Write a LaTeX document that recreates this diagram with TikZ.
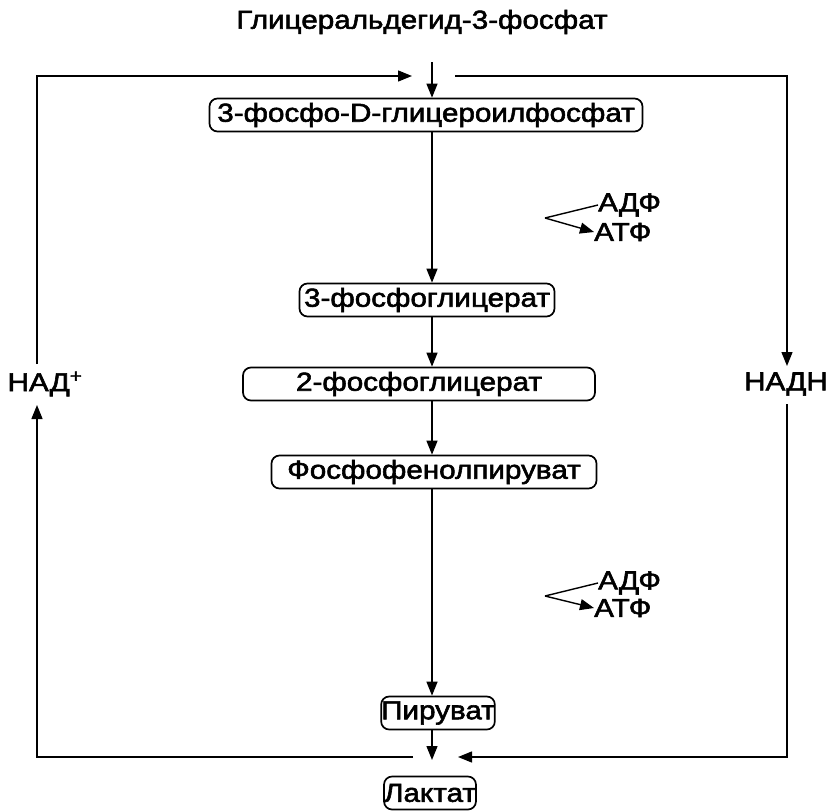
\documentclass[tikz,border=0pt]{standalone}
\usepackage{fontspec}
\setmainfont[FakeStretch=1.14,UprightFeatures={FakeBold=2.2}]{Liberation Sans}
\usetikzlibrary{arrows.meta}
\begin{document}
\begin{tikzpicture}[x=1pt,y=-1pt,
  box/.style={draw, rounded corners=8pt, line width=1.7pt, minimum height=33pt, inner sep=0pt},
  lbl/.style={inner sep=0pt},
  conn/.style={line width=1.4pt},
  arr/.style={conn, -{Triangle[length=14pt,width=11pt]}},
  font=\fontsize{26}{30}\selectfont]
\useasboundingbox[fill=white] (0,0) rectangle (828,811);
% nodes
\node[lbl] (title) at (422,22) {Глицеральдегид-3-фосфат};
\node[box, minimum width=433pt] (b1) at (426,115) {3-фосфо-D-глицероилфосфат};
\node[box, minimum width=255pt] (b2) at (427,300) {3-фосфоглицерат};
\node[box, minimum width=352pt] (b3) at (419,384) {2-фосфоглицерат};
\node[box, minimum width=325pt] (b4) at (434,472) {Фосфофенолпируват};
\node[box, minimum width=106pt] (b5) at (438,713) {Пируват};
\node[box, minimum width=88pt] (b6) at (430,793) {Лактат};
\node[lbl] (nadp) at (45,384) {НАД\textsuperscript{+}};
\node[lbl] (nadh) at (786,384) {НАДН};
\node[lbl, anchor=west] (adp1) at (598,205) {АДФ};
\node[lbl, anchor=west] (atp1) at (594,232) {АТФ};
\node[lbl, anchor=west] (adp2) at (598,583) {АДФ};
\node[lbl, anchor=west] (atp2) at (594,608) {АТФ};
% coordinates
\coordinate (cx) at (432,0);
\coordinate (t1) at (432,62);
\coordinate (tl) at (37,76);
\coordinate (tr) at (787,76);
\coordinate (bl) at (37,757);
\coordinate (br) at (787,757);
\coordinate (toptip) at (412,76);
\coordinate (topstart) at (455,76);
\coordinate (botend) at (413,757);
\coordinate (bottip) at (458,757);
\coordinate (lact) at (432,760);
\coordinate (k1) at (545,218);
\coordinate (k2) at (545,596);
\coordinate (lup) at (37,364);
\coordinate (ltip) at (37,405);
\coordinate (rtip) at (787,366);
\coordinate (rbot) at (787,404);
% main chain
\draw[arr] (t1) -- (t1 |- b1.north);
\draw[arr] (cx |- b1.south) -- (cx |- b2.north);
\draw[arr] (cx |- b2.south) -- (cx |- b3.north);
\draw[arr] (cx |- b3.south) -- (cx |- b4.north);
\draw[arr] (cx |- b4.south) -- (cx |- b5.north);
\draw[arr] (cx |- b5.south) -- (lact);
% ADP/ATP
\draw[conn] (adp1.west) -- (k1);
\draw[arr] (k1) -- (atp1.west);
\draw[conn] (adp2.west) -- (k2);
\draw[arr] (k2) -- (atp2.west);
% loop
\draw[arr] (lup) -- (tl) -- (toptip);
\draw[arr] (botend) -- (bl) -- (ltip);
\draw[arr] (topstart) -- (tr) -- (rtip);
\draw[arr] (rbot) -- (br) -- (bottip);
\end{tikzpicture}
\end{document}
